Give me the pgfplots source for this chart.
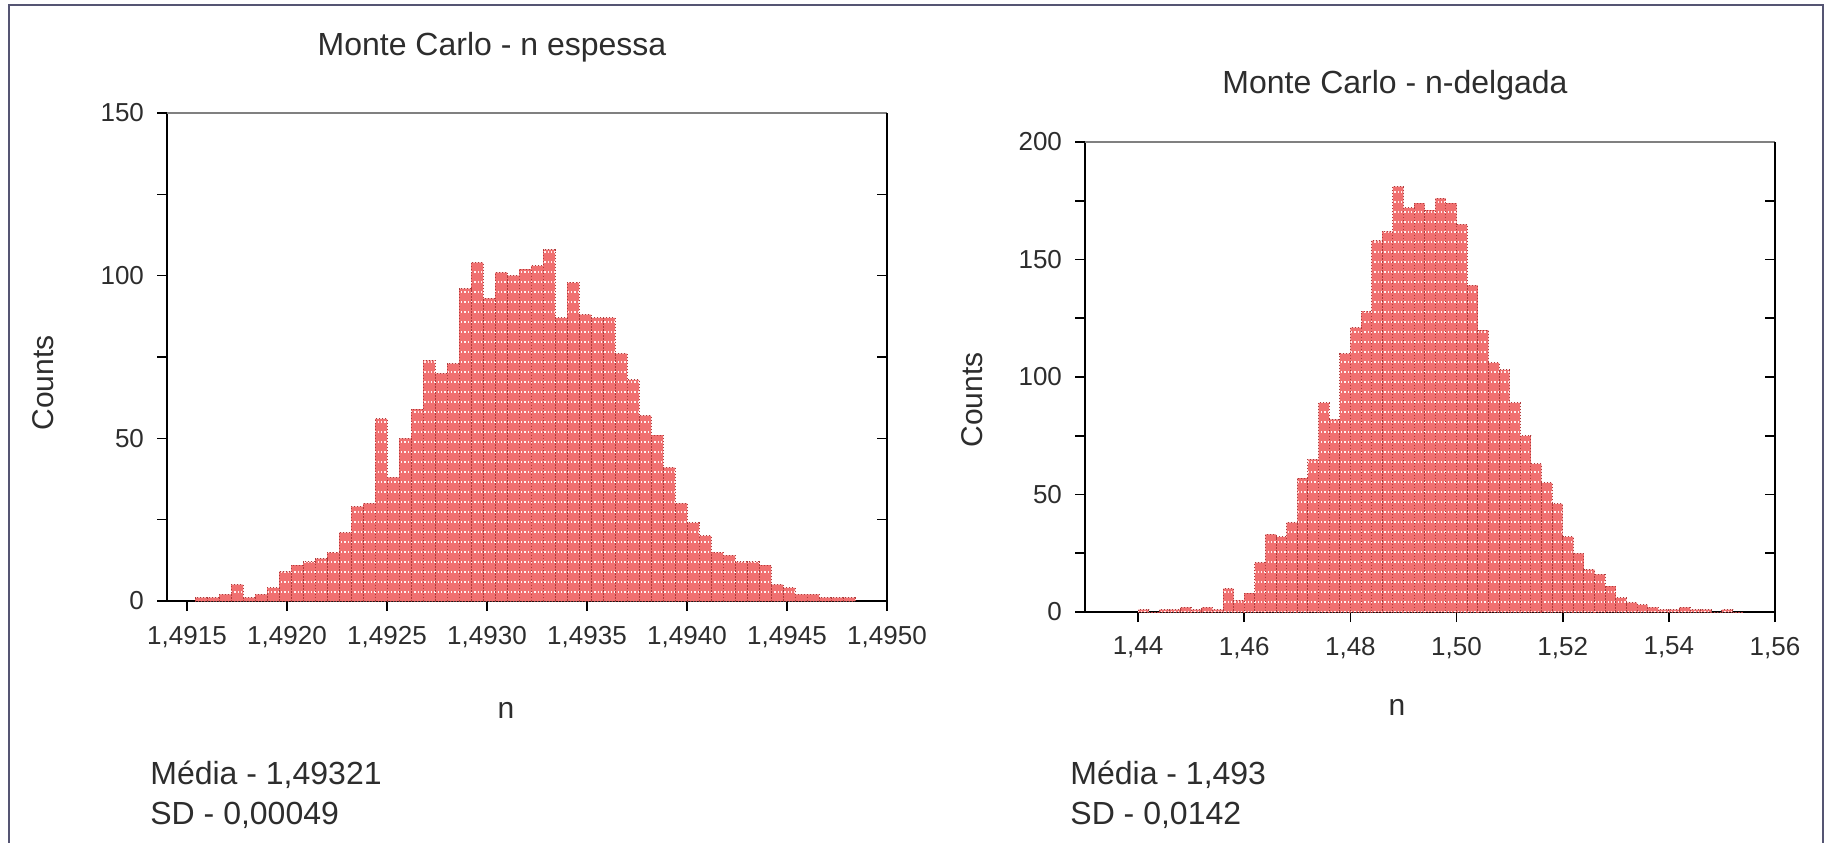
\documentclass[border=0pt]{standalone}
\usepackage{pgfplots}
\pgfplotsset{compat=1.18}
\usetikzlibrary{patterns.meta}
\usepackage{fontspec}
\setmainfont{Liberation Sans}
\definecolor{barfill}{RGB}{240,112,112}
\definecolor{baredge}{RGB}{175,60,60}
\definecolor{frame}{RGB}{85,85,115}
\definecolor{txt}{RGB}{45,45,45}

\pgfplotstableread{
x y
1.49154 1
1.49160 1
1.49166 2
1.49172 5
1.49178 1
1.49184 2
1.49190 4
1.49196 9
1.49202 11
1.49208 12
1.49214 13
1.49220 15
1.49226 21
1.49232 29
1.49238 30
1.49244 56
1.49250 38
1.49256 50
1.49262 59
1.49268 74
1.49274 70
1.49280 73
1.49286 96
1.49292 104
1.49298 93
1.49304 101
1.49310 100
1.49316 102
1.49322 103
1.49328 108
1.49334 87
1.49340 98
1.49346 88
1.49352 87
1.49358 87
1.49364 76
1.49370 68
1.49376 57
1.49382 51
1.49388 41
1.49394 30
1.49400 24
1.49406 20
1.49412 15
1.49418 14
1.49424 12
1.49430 12
1.49436 11
1.49442 5
1.49448 4
1.49454 2
1.49460 2
1.49466 1
1.49472 1
1.49478 1
1.49484 0
}\espessa

\pgfplotstableread{
x y
1.440 1
1.442 0
1.444 1
1.446 1
1.448 2
1.450 1
1.452 2
1.454 1
1.456 10
1.458 5
1.460 8
1.462 21
1.464 33
1.466 32
1.468 38
1.470 57
1.472 65
1.474 89
1.476 82
1.478 110
1.480 121
1.482 128
1.484 158
1.486 162
1.488 181
1.490 172
1.492 174
1.494 171
1.496 176
1.498 174
1.500 165
1.502 139
1.504 120
1.506 106
1.508 103
1.510 89
1.512 75
1.514 63
1.516 55
1.518 46
1.520 32
1.522 25
1.524 18
1.526 16
1.528 11
1.530 6
1.532 4
1.534 3
1.536 2
1.538 1
1.540 1
1.542 2
1.544 1
1.546 1
1.548 0
1.550 1
1.552 0
1.554 0
}\delgada

\pgfplotsset{
  hist/.style={
    scale only axis, anchor=south west,
    axis x line*=bottom, axis y line*=left,
    tick align=outside, major tick length=5pt, minor tick length=5pt,
    tick style={black, line width=0.8pt},
    axis line style={black, line width=1.2pt},
    ticklabel style={font=\fontsize{13}{15}\selectfont, text=txt},
    xticklabel style={yshift=-4pt},
    yticklabel style={xshift=-3pt},
    /pgf/number format/assume math mode=true,
    ymin=0,
  },
  frameax/.style={
    scale only axis, anchor=south west,
    axis x line*=top, axis y line*=right,
    xtick=\empty, yticklabels={},
    tick align=inside, major tick length=5pt,
    tick style={black, line width=0.8pt},
    x axis line style={gray, line width=0.8pt},
    y axis line style={black, line width=1.2pt},
    ymin=0,
  },
  barsty/.style={ybar interval, fill=barfill, draw=baredge, densely dotted, line width=0.5pt,
    postaction={pattern={Lines[angle=0, distance=5pt, line width=0.8pt]}, pattern color=white!90!barfill}},
}

\begin{document}
\begin{tikzpicture}
\useasboundingbox (0pt,0pt) rectangle (916pt,421pt);
\draw[frame, line width=1.2pt] (4.5pt,-2pt) -- (4.5pt,418.5pt) -- (911.5pt,418.5pt) -- (911.5pt,-2pt);

% left plot
\begin{axis}[hist, at={(83.5pt,120.5pt)}, width=360pt, height=244pt,
  xmin=1.4914, xmax=1.4950, ymax=150,
  xtick={1.4915,1.4920,1.4925,1.4930,1.4935,1.4940,1.4945,1.4950},
  xticklabels={{1,4915},{1,4920},{1,4925},{1,4930},{1,4935},{1,4940},{1,4945},{1,4950}},
  ytick={0,50,100,150}, minor ytick={25,75,125}]
\addplot[barsty] table[x=x,y=y] {\espessa};
\end{axis}
\begin{axis}[frameax, at={(83.5pt,120.5pt)}, width=360pt, height=244pt,
  xmin=1.4914, xmax=1.4950, ymax=150, ytick={25,50,...,150}]
\end{axis}

% right plot
\begin{axis}[hist, at={(542.5pt,115pt)}, width=345pt, height=235pt,
  xmin=1.43, xmax=1.56, ymax=200,
  xtick={1.44,1.46,1.48,1.50,1.52,1.54,1.56},
  xticklabels={{1,44},{1,46},{1,48},{1,50},{1,52},{1,54},{1,56}},
  ytick={0,50,100,150,200}, minor ytick={25,75,125,175}]
\addplot[barsty] table[x=x,y=y] {\delgada};
\end{axis}
\begin{axis}[frameax, at={(542.5pt,115pt)}, width=345pt, height=235pt,
  xmin=1.43, xmax=1.56, ymax=200, ytick={25,50,...,200}]
\end{axis}

\begin{scope}[every node/.style={text=txt, inner sep=0pt}]
\node[font=\fontsize{16}{19}\selectfont] at (246pt,397.5pt) {Monte Carlo - n espessa};
\node[font=\fontsize{16}{19}\selectfont] at (697.5pt,378.5pt) {Monte Carlo - n-delgada};
\node[rotate=90, font=\fontsize{15}{18}\selectfont] at (21.5pt,229.5pt) {Counts};
\node[rotate=90, font=\fontsize{15}{18}\selectfont] at (486pt,221pt) {Counts};
\node[font=\fontsize{15}{18}\selectfont] at (253pt,66pt) {n};
\node[font=\fontsize{15}{18}\selectfont] at (698.5pt,67.5pt) {n};
\node[anchor=west, font=\fontsize{16}{19}\selectfont] at (75pt,33.5pt) {Média - 1,49321};
\node[anchor=west, font=\fontsize{16}{19}\selectfont] at (75pt,13.5pt) {SD - 0,00049};
\node[anchor=west, font=\fontsize{16}{19}\selectfont] at (535pt,33.5pt) {Média - 1,493};
\node[anchor=west, font=\fontsize{16}{19}\selectfont] at (535pt,13.5pt) {SD - 0,0142};
\end{scope}
\end{tikzpicture}
\end{document}
